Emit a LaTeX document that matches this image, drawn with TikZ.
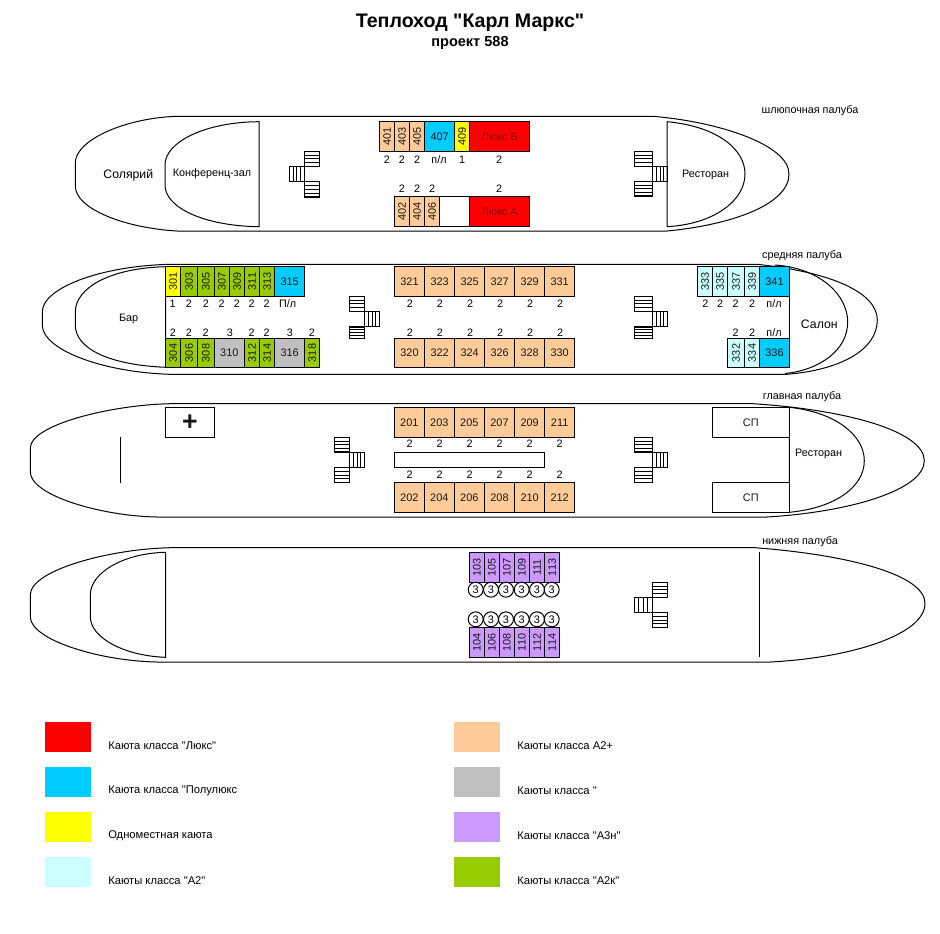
\documentclass[tikz,border=0pt]{standalone}
\usepackage{fontspec}
\setmainfont[Ligatures=TeXOff]{Liberation Sans}
\newcounter{lb}
\newcommand\qq{"}
\tikzset{
  ln/.style={draw=black,line width=0.75pt},
  thk/.style={draw=black,line width=1.3pt},
  cab/.style={draw=black,line width=0.75pt,anchor=north west,inner sep=0pt,outer sep=0pt,font=\fontsize{8.2pt}{9pt}\selectfont,text=black!90},
  lbl/.style={inner sep=0pt,font=\fontsize{8.1pt}{9pt}\selectfont},
  big/.style={inner sep=0pt,font=\fontsize{9.2pt}{10pt}\selectfont},
  leg/.style={inner sep=0pt,anchor=west,font=\fontsize{8.4pt}{9pt}\selectfont},
  swatch/.style={anchor=north west,inner sep=0pt,outer sep=0pt,minimum width=34.5pt,minimum height=22.5pt},
  circ/.style={circle,draw=black,line width=0.75pt,inner sep=0pt,minimum size=11.2pt,font=\fontsize{8.2pt}{9pt}\selectfont}
}
\definecolor{lux}{HTML}{FF0000}
\definecolor{luxtext}{HTML}{8B0000}
\definecolor{semi}{HTML}{00CCFF}
\definecolor{single}{HTML}{FFFF00}
\definecolor{atwo}{HTML}{CCFFFF}
\definecolor{aplus}{HTML}{FFCC99}
\definecolor{greyc}{HTML}{C0C0C0}
\definecolor{athree}{HTML}{CC99FF}
\definecolor{ak}{HTML}{99CC00}
% name x0 x1 y0 y1 colour text
\newcommand\cabh[7]{\node[cab,fill=#6,minimum width={(#3-#2)*0.75pt},minimum height={(#5-#4)*0.75pt}] (c#1) at (#2,#4) {#7};}
\newcommand\cabv[6]{\node[cab,fill=#6,minimum width={(#3-#2)*0.75pt},minimum height={(#5-#4)*0.75pt}] (c#1) at (#2,#4) {\rotatebox{90}{#1}};}
\newcommand\lab[3]{\stepcounter{lb}\node[lbl] (l\thelb) at (#1,#2) {#3};}
\newcommand\stair[8]{%
  \draw[ln] (#1,#5) rectangle (#2,#6);
  \draw[ln] (#1,#7) rectangle (#2,#8);
  \draw[ln] (#3,#6) rectangle (#4,#7);
  \foreach \k in {1,2,3}{
    \draw[ln] (#1,{#5+(#6-#5)*\k/4}) -- (#2,{#5+(#6-#5)*\k/4});
    \draw[ln] (#1,{#7+(#8-#7)*\k/4}) -- (#2,{#7+(#8-#7)*\k/4});
    \draw[ln] ({#3+(#4-#3)*\k/4},#6) -- ({#3+(#4-#3)*\k/4},#7);
  }}
\begin{document}
\begin{tikzpicture}[x=0.75pt,y=-0.75pt]
\useasboundingbox (0,0) rectangle (940,933);
% title
\node[inner sep=0pt,font=\bfseries\fontsize{14.7pt}{16pt}\selectfont] (title) at (470,22.5) {Теплоход \qq Карл Маркс\qq};
\node[inner sep=0pt,font=\bfseries\fontsize{10.9pt}{12pt}\selectfont] (sub) at (470,43) {проект 588};
% deck names
\node[lbl] (d4) at (810,110.3) {шлюпочная палуба};
\node[lbl] (d3) at (802,255.3) {средняя палуба};
\node[lbl] (d2) at (802,396.8) {главная палуба};
\node[lbl] (d1) at (800,541.3) {нижняя палуба};

% ---------- deck 4
\draw[ln] (177,116.3) .. controls (125,118) and (75.3,140) .. (75.3,163) -- (75.3,186) .. controls (75.3,209) and (125,228) .. (177,231) -- (667,231) .. controls (730,225) and (789,205) .. (789,174) .. controls (789,145) and (720,122) .. (653,116.3) -- cycle;
\draw[ln] (259,121.7) .. controls (205,122) and (165,142) .. (165,165) -- (165,185) .. controls (165,208) and (205,226) .. (259,226.7) -- cycle;
\draw[ln] (667,121.7) .. controls (715,126) and (745,148) .. (745,174) .. controls (745,200) and (715,224) .. (667,226.7) -- cycle;
\node[big] (sol) at (128.3,175) {Солярий};
\node[lbl] (conf) at (212,174) {Конференц-зал};
\node[lbl] (rest4) at (705.7,175.2) {Ресторан};
\stair{304.3}{319.7}{289.3}{304.3}{151.3}{166.3}{181.7}{197}
\stair{634.3}{652.7}{652.7}{667.3}{151.3}{166.3}{181.5}{196}
\coordinate (a1) at (304.3,196.6); \coordinate (a2) at (319.7,196.6);
\coordinate (a3) at (634.3,195.6); \coordinate (a4) at (652.7,195.6);
\draw[thk] (a1) -- (a2);
\draw[thk] (a3) -- (a4);
\cabv{401}{379.5}{394.5}{121.7}{151.7}{aplus}
\cabv{403}{394.5}{409.5}{121.7}{151.7}{aplus}
\cabv{405}{409.5}{424.7}{121.7}{151.7}{aplus}
\cabh{407}{424.7}{454.7}{121.7}{151.7}{semi}{407}
\cabv{409}{454.7}{469.7}{121.7}{151.7}{single}
\cabh{lb}{469.7}{529.7}{121.7}{151.7}{lux}{\textcolor{luxtext}{Люкс Б}}
\cabv{402}{394.5}{409.5}{196.5}{226.7}{aplus}
\cabv{404}{409.5}{424.7}{196.5}{226.7}{aplus}
\cabv{406}{424.7}{439.7}{196.5}{226.7}{aplus}
\cabh{e4}{439.7}{469.7}{196.5}{226.7}{white}{}
\cabh{la}{469.7}{529.7}{196.5}{226.7}{lux}{\textcolor{luxtext}{Люкс А}}
\foreach \x/\t in {387/2,402/2,417/2,439/{п/л},462/1,499/2}{\lab{\x}{159.3}{\t}}
\foreach \x in {402,417,432,499}{\lab{\x}{189}{2}}

% ---------- deck 3
\draw[ln] (170,264.3) .. controls (100,266) and (42.3,288) .. (42.3,312) -- (42.3,325) .. controls (42.3,349) and (100,372) .. (170,374.3) -- (787,374.3) .. controls (840,370) and (877.3,350) .. (877.3,320) .. controls (877.3,292) and (830,272) .. (757,264.3) -- cycle;
\draw[ln] (165.7,266.7) .. controls (110,268) and (75.3,288) .. (75.3,312) -- (75.3,325) .. controls (75.3,349) and (110,365) .. (165.7,367.3) -- cycle;
\draw[ln] (775,265) .. controls (820,268) and (847.7,295) .. (847.7,322) .. controls (847.7,350) and (820,370) .. (785,373.5);
\draw[ln] (789.3,266.7) -- (789.3,367.3);
\node[lbl] (bar) at (128.7,318.7) {Бар};
\node[big] (salon) at (819.3,324) {Салон};
\stair{349.3}{364.3}{364.3}{379.7}{296.3}{311.3}{326.7}{338.7}
\stair{634.3}{652.7}{652.7}{667.7}{296.3}{311.3}{326.7}{338.7}
\coordinate (b1) at (349.3,327); \coordinate (b2) at (364.3,327);
\coordinate (b3) at (634.3,327); \coordinate (b4) at (652.7,327);
\draw[thk] (b1) -- (b2);
\draw[thk] (b3) -- (b4);
\cabv{301}{165.7}{180.7}{266.7}{296.3}{single}
\cabv{303}{180.7}{197.3}{266.7}{296.3}{ak}
\cabv{305}{197.3}{214.3}{266.7}{296.3}{ak}
\cabv{307}{214.3}{229.3}{266.7}{296.3}{ak}
\cabv{309}{229.3}{244.7}{266.7}{296.3}{ak}
\cabv{311}{244.7}{259.7}{266.7}{296.3}{ak}
\cabv{313}{259.7}{274.7}{266.7}{296.3}{ak}
\cabh{315}{274.7}{304.7}{266.7}{296.3}{semi}{315}
\cabv{304}{165.7}{180.7}{338.7}{367.3}{ak}
\cabv{306}{180.7}{197.3}{338.7}{367.3}{ak}
\cabv{308}{197.3}{214.3}{338.7}{367.3}{ak}
\cabh{310}{214.3}{244.3}{338.7}{367.3}{greyc}{310}
\cabv{312}{244.3}{259.7}{338.7}{367.3}{ak}
\cabv{314}{259.7}{274.7}{338.7}{367.3}{ak}
\cabh{316}{274.7}{304.7}{338.7}{367.3}{greyc}{316}
\cabv{318}{304.7}{319.7}{338.7}{367.3}{ak}
\cabh{321}{394.3}{424.7}{266.7}{296.3}{aplus}{321}
\cabh{323}{424.7}{454.7}{266.7}{296.3}{aplus}{323}
\cabh{325}{454.7}{484.7}{266.7}{296.3}{aplus}{325}
\cabh{327}{484.7}{514.7}{266.7}{296.3}{aplus}{327}
\cabh{329}{514.7}{544.7}{266.7}{296.3}{aplus}{329}
\cabh{331}{544.7}{574.7}{266.7}{296.3}{aplus}{331}
\cabh{320}{394.3}{424.7}{338.7}{367.3}{aplus}{320}
\cabh{322}{424.7}{454.7}{338.7}{367.3}{aplus}{322}
\cabh{324}{454.7}{484.7}{338.7}{367.3}{aplus}{324}
\cabh{326}{484.7}{514.7}{338.7}{367.3}{aplus}{326}
\cabh{328}{514.7}{544.7}{338.7}{367.3}{aplus}{328}
\cabh{330}{544.7}{574.7}{338.7}{367.3}{aplus}{330}
\cabv{333}{697.3}{712.7}{266.7}{296.3}{atwo}
\cabv{335}{712.7}{727.7}{266.7}{296.3}{atwo}
\cabv{337}{727.7}{744.7}{266.7}{296.3}{atwo}
\cabv{339}{744.7}{759.7}{266.7}{296.3}{atwo}
\cabh{341}{759.7}{789.3}{266.7}{296.3}{semi}{341}
\cabv{332}{727.7}{744.7}{338.7}{367.3}{atwo}
\cabv{334}{744.7}{759.7}{338.7}{367.3}{atwo}
\cabh{336}{759.7}{789.3}{338.7}{367.3}{semi}{336}
\foreach \x/\t in {172.7/1,189/2,206/2,221.7/2,237/2,251.7/2,266.7/2,287.7/{П/л},410/2,440/2,470/2,500/2,530/2,560/2,705.3/2,720/2,735.7/2,752/2,774/{п/л}}{\lab{\x}{304}{\t}}
\foreach \x/\t in {173/2,189/2,205.7/2,230/3,251.7/2,266.7/2,290/3,312/2,410/2,440/2,470/2,500/2,530/2,560/2,735.7/2,752/2,774/{п/л}}{\lab{\x}{332.3}{\t}}

% ---------- deck 2
\draw[ln] (170,403.7) .. controls (110,405) and (30.3,425) .. (30.3,448) -- (30.3,472) .. controls (30.3,495) and (100,516) .. (157,517) -- (767,517) .. controls (850,512) and (924.3,490) .. (924.3,460.7) .. controls (924.3,432) and (850,410) .. (753,403.7) -- cycle;
\draw[ln] (789.3,407.3) .. controls (835,412) and (864.3,435) .. (864.3,460.7) .. controls (864.3,487) and (835,508) .. (789.3,512.3) -- cycle;
\node[lbl] (rest2) at (818.7,453.6) {Ресторан};
\cabh{sp1}{712.3}{789.3}{407.3}{437.3}{white}{СП}
\cabh{sp2}{712.3}{789.3}{482.3}{512.3}{white}{СП}
\node[cab,fill=white,minimum width={49*0.75pt},minimum height={30*0.75pt},font=\bfseries\fontsize{20pt}{20pt}\selectfont] (med) at (165.3,407.3) {+};
\coordinate (m1) at (120.3,437);
\coordinate (m2) at (120.3,482.7);
\draw[ln] (m1) -- (m2);
\stair{334.3}{349.7}{349.7}{364.7}{437.3}{452.3}{467.7}{482.3}
\stair{634.3}{652.7}{652.7}{667.7}{437.3}{452.3}{467.7}{482.3}
\coordinate (g1) at (334.3,452); \coordinate (g2) at (349.7,452);
\coordinate (g3) at (634.3,452); \coordinate (g4) at (652.7,452);
\draw[thk] (g1) -- (g2);
\draw[thk] (g3) -- (g4);
\cabh{201}{394.3}{424.3}{407.3}{437.3}{aplus}{201}
\cabh{203}{424.3}{454.3}{407.3}{437.3}{aplus}{203}
\cabh{205}{454.3}{484.3}{407.3}{437.3}{aplus}{205}
\cabh{207}{484.3}{514.7}{407.3}{437.3}{aplus}{207}
\cabh{209}{514.7}{544.7}{407.3}{437.3}{aplus}{209}
\cabh{211}{544.7}{574.7}{407.3}{437.3}{aplus}{211}
\cabh{202}{394.3}{424.3}{482.3}{512.3}{aplus}{202}
\cabh{204}{424.3}{454.3}{482.3}{512.3}{aplus}{204}
\cabh{206}{454.3}{484.3}{482.3}{512.3}{aplus}{206}
\cabh{208}{484.3}{514.7}{482.3}{512.3}{aplus}{208}
\cabh{210}{514.7}{544.7}{482.3}{512.3}{aplus}{210}
\cabh{212}{544.7}{574.7}{482.3}{512.3}{aplus}{212}
\cabh{corr}{394.3}{544.7}{452.3}{467.7}{white}{}
\foreach \x in {409.7,439.7,469.7,499.7,529.7,559.7}{\lab{\x}{444}{2}\lab{\x}{475}{2}}

% ---------- deck 1
\draw[ln] (170,547.7) .. controls (110,549) and (30.3,570) .. (30.3,595) -- (30.3,616.7) .. controls (30.3,640) and (100,661) .. (157,662) -- (770,662) .. controls (850,658) and (925,635) .. (925,603.3) .. controls (925,575) and (850,555) .. (755,547.7) -- cycle;
\draw[ln] (165.7,552.3) .. controls (125,553) and (90.3,572) .. (90.3,595) -- (90.3,616.7) .. controls (90.3,638) and (125,656) .. (165.7,657.3) -- cycle;
\coordinate (r1) at (759.3,552.3);
\coordinate (r2) at (759.3,657.3);
\draw[ln] (r1) -- (r2);
\stair{652.3}{667.7}{634}{652.3}{582.3}{597.3}{612.7}{627.3}
\cabv{103}{469.3}{484.3}{552.3}{582.3}{athree}
\cabv{105}{484.3}{499.3}{552.3}{582.3}{athree}
\cabv{107}{499.3}{514.3}{552.3}{582.3}{athree}
\cabv{109}{514.3}{529.3}{552.3}{582.3}{athree}
\cabv{111}{529.3}{544.7}{552.3}{582.3}{athree}
\cabv{113}{544.7}{559.7}{552.3}{582.3}{athree}
\cabv{104}{469.3}{484.3}{627.3}{657.3}{athree}
\cabv{106}{484.3}{499.3}{627.3}{657.3}{athree}
\cabv{108}{499.3}{514.3}{627.3}{657.3}{athree}
\cabv{110}{514.3}{529.3}{627.3}{657.3}{athree}
\cabv{112}{529.3}{544.7}{627.3}{657.3}{athree}
\cabv{114}{544.7}{559.7}{627.3}{657.3}{athree}
\foreach \x [count=\i] in {475.7,491,506,521.7,537,551.7}{
  \node[circ] (up\i) at (\x,589.7) {3};
  \node[circ] (dn\i) at (\x,619.3) {3};
}

% ---------- legend
\node[swatch,fill=lux] (s1) at (45,722) {};
\node[swatch,fill=semi] (s2) at (45,767) {};
\node[swatch,fill=single] (s3) at (45,812) {};
\node[swatch,fill=atwo] (s4) at (45,857) {};
\node[swatch,fill=aplus] (s5) at (454,722) {};
\node[swatch,fill=greyc] (s6) at (454,767) {};
\node[swatch,fill=athree] (s7) at (454,812) {};
\node[swatch,fill=ak] (s8) at (454,857) {};
\node[leg] (t1) at (108,746) {Каюта класса \qq Люкс\qq};
\node[leg] (t2) at (108,791) {Каюта класса \qq Полулюкс};
\node[leg] (t3) at (108,836) {Одноместная каюта};
\node[leg] (t4) at (108,881) {Каюты класса \qq А2\qq};
\node[leg] (t5) at (517,746) {Каюты класса А2+};
\node[leg] (t6) at (517,791) {Каюты класса \qq};
\node[leg] (t7) at (517,836) {Каюты класса \qq А3н\qq};
\node[leg] (t8) at (517,881) {Каюты класса \qq А2к\qq};
\end{tikzpicture}
\end{document}
